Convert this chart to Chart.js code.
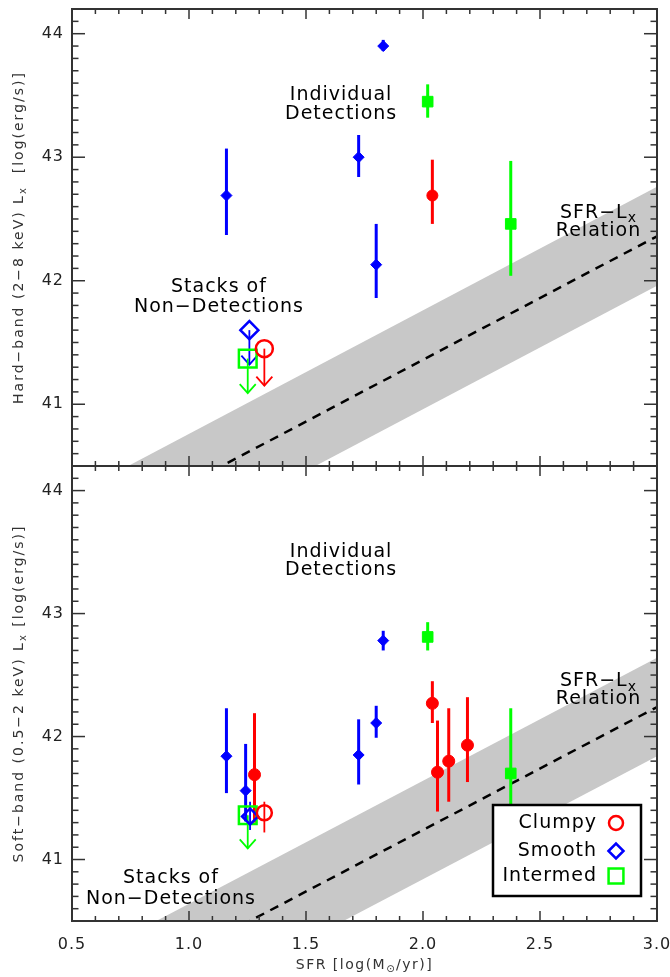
<!DOCTYPE html>
<html>
<head>
<meta charset="utf-8">
<script src="https://cdn.jsdelivr.net/npm/chart.js@4.4.0/dist/chart.umd.min.js"></script>
<style>
  html, body { margin: 0; padding: 0; background: #fff; }
  #wrap { position: relative; width: 670px; height: 977px; }
  canvas { position: absolute; left: 0; }
  #hardChart { top: 0; }
  #softChart { top: 456px; }
</style>
</head>
<body>
<div id="wrap">
  <canvas id="hardChart" width="670" height="476"></canvas>
  <canvas id="softChart" width="670" height="521"></canvas>
</div>
<script>
// axes
const sfrTicks = [0.5, 1.0, 1.5, 2.0, 2.5, 3.0];
const lxTicks = [41, 42, 43, 44];

// SFR-Lx relation (dashed line) and its scatter band
const relSfr = [0.5, 3.0];
const hardRelLx = [39.86, 42.36];
const softRelLx = [39.74, 42.24];
const relWidth = 0.4;

// hard band (2-8 keV), individual detections
const hardClumpySfr = [2.04];
const hardClumpyLx = [42.69];
const hardClumpyLo = [42.46];
const hardClumpyHi = [42.98];

const hardSmoothSfr = [1.16, 1.725, 1.80, 1.83];
const hardSmoothLx = [42.69, 43.00, 42.13, 43.90];
const hardSmoothLo = [42.37, 42.84, 41.86, 43.86];
const hardSmoothHi = [43.07, 43.18, 42.46, 43.95];

const hardInterSfr = [2.02, 2.375];
const hardInterLx = [43.45, 42.46];
const hardInterLo = [43.32, 42.04];
const hardInterHi = [43.59, 42.97];

// hard band stacks of non-detections: clumpy, smooth, intermed
const hardStackSfr = [1.322, 1.258, 1.251];
const hardStackLx = [41.45, 41.60, 41.37];
const hardStackLo = [null, null, null];
const hardStackHi = [null, null, null];
const hardStackLimit = [41.15, 41.32, 41.09];

// soft band (0.5-2 keV), individual detections
const softClumpySfr = [1.28, 2.04, 2.062, 2.11, 2.19];
const softClumpyLx = [41.69, 42.27, 41.71, 41.80, 41.93];
const softClumpyLo = [41.30, 42.11, 41.39, 41.47, 41.63];
const softClumpyHi = [42.19, 42.45, 42.13, 42.23, 42.32];

const softSmoothSfr = [1.16, 1.242, 1.725, 1.80, 1.83];
const softSmoothLx = [41.84, 41.56, 41.85, 42.11, 42.78];
const softSmoothLo = [41.54, 41.31, 41.61, 41.99, 42.70];
const softSmoothHi = [42.23, 41.94, 42.14, 42.25, 42.86];

const softInterSfr = [2.02, 2.375];
const softInterLx = [42.81, 41.70];
const softInterLo = [42.70, 41.30];
const softInterHi = [42.93, 42.23];

// soft band stacks: clumpy, smooth, intermed
const softStackSfr = [1.322, 1.261, 1.251];
const softStackLx = [41.38, 41.35, 41.36];
const softStackLo = [41.22, 41.24, null];
const softStackHi = [41.47, 41.47, null];
const softStackLimit = [null, null, 41.09];

const FONT = '"DejaVu Sans", "Liberation Sans", sans-serif';
const RED = '#ff0000';
const BLUE = '#0000ff';
const GREEN = '#00ff00';
const BAND = '#c8c8c8';
const FRAME = '#333';

function pts(xs, ys) {
  return xs.map((x, i) => ({ x: x, y: ys[i] }));
}

function fontFor(seg, size) {
  return (seg.sub ? Math.round(size * 0.72) : size) + 'px ' + FONT;
}

// draws text made of segments, some of them subscripts
function drawRich(ctx, segs, x, y, size, align) {
  segs = typeof segs === 'string' ? [{ t: segs }] : segs;
  const widths = segs.map(s => { ctx.font = fontFor(s, size); return ctx.measureText(s.t).width; });
  const total = widths.reduce((a, b) => a + b, 0);
  let cx = align === 'center' ? x - total / 2 : align === 'right' ? x - total : x;
  ctx.textAlign = 'left';
  ctx.textBaseline = 'middle';
  segs.forEach((s, i) => {
    ctx.font = fontFor(s, size);
    ctx.fillText(s.t, cx, s.sub ? y + size * 0.3 : y);
    cx += widths[i];
  });
}

function line(ctx, x1, y1, x2, y2) {
  ctx.beginPath();
  ctx.moveTo(x1, y1);
  ctx.lineTo(x2, y2);
  ctx.stroke();
}

function makePanel(id, p) {
  const canvas = document.getElementById(id);

  const styles = {
    clumpy: { pointStyle: 'circle', color: RED },
    smooth: { pointStyle: 'rectRot', color: BLUE },
    inter: { pointStyle: 'rect', color: GREEN }
  };
  const detRadius = { clumpy: p.bottom ? 6 : 5.5, smooth: 5.5, inter: 7.5 };
  const stackRadius = { clumpy: p.bottom ? 7.5 : 8.5, smooth: p.bottom ? 8 : 9, inter: 12.5 };
  const keys = ['clumpy', 'smooth', 'inter'];

  const datasets = [];
  keys.forEach(k => {
    const d = p.det[k];
    datasets.push({
      label: k, data: pts(d.sfr, d.lx), showLine: false, order: 1,
      pointStyle: styles[k].pointStyle, pointRadius: detRadius[k],
      backgroundColor: styles[k].color, borderColor: styles[k].color, borderWidth: 1
    });
  });
  keys.forEach((k, i) => {
    datasets.push({
      label: k + ' stack', data: [{ x: p.stack.sfr[i], y: p.stack.lx[i] }], showLine: false, order: 2,
      pointStyle: styles[k].pointStyle, pointRadius: stackRadius[k],
      backgroundColor: 'rgba(0,0,0,0)', borderColor: styles[k].color, borderWidth: 2.5
    });
  });
  datasets.push({
    label: 'relation', data: pts(relSfr, p.rel), order: 5,
    borderColor: '#000', borderWidth: 2.5, borderDash: [9, 7], pointRadius: 0, fill: false
  });
  datasets.push({
    label: 'band upper', data: pts(relSfr, p.rel.map(v => v + relWidth)), order: 6,
    borderWidth: 0, pointRadius: 0, backgroundColor: BAND, fill: '+1'
  });
  datasets.push({
    label: 'band lower', data: pts(relSfr, p.rel.map(v => v - relWidth)), order: 7,
    borderWidth: 0, pointRadius: 0, backgroundColor: BAND, fill: false
  });

  function errorBars(chart) {
    const ctx = chart.ctx;
    const xs = chart.scales.x, ys = chart.scales.y;
    ctx.save();
    ctx.lineCap = 'butt';
    keys.forEach(k => {
      const d = p.det[k];
      ctx.strokeStyle = styles[k].color;
      ctx.lineWidth = 3;
      d.sfr.forEach((s, i) => {
        const px = xs.getPixelForValue(s);
        line(ctx, px, ys.getPixelForValue(d.lo[i]), px, ys.getPixelForValue(d.hi[i]));
      });
    });
    keys.forEach((k, i) => {
      const st = p.stack;
      const px = xs.getPixelForValue(st.sfr[i]);
      ctx.strokeStyle = styles[k].color;
      ctx.lineWidth = 1.8;
      if (st.lo[i] != null) {
        line(ctx, px, ys.getPixelForValue(st.lo[i]), px, ys.getPixelForValue(st.hi[i]));
      }
      if (st.limit[i] != null) {
        const py0 = ys.getPixelForValue(st.lx[i]);
        const tip = ys.getPixelForValue(st.limit[i]);
        line(ctx, px, py0, px, tip);
        ctx.beginPath();
        ctx.moveTo(px - 8, tip - 9);
        ctx.lineTo(px, tip);
        ctx.lineTo(px + 8, tip - 9);
        ctx.stroke();
      }
    });
    ctx.restore();
  }

  function frame(chart) {
    const ctx = chart.ctx, a = chart.chartArea;
    const xs = chart.scales.x, ys = chart.scales.y;
    ctx.save();
    ctx.strokeStyle = FRAME;
    ctx.lineWidth = 1.5;
    for (let v = 6; v <= 29; v++) {
      const px = xs.getPixelForValue(v / 10);
      const len = v % 5 === 0 ? 10 : 5;
      line(ctx, px, a.top, px, a.top + len);
      line(ctx, px, a.bottom, px, a.bottom - len);
    }
    for (let v = 406; v <= 441; v++) {
      const py = ys.getPixelForValue(v / 10);
      const len = v % 10 === 0 ? 13 : 6.5;
      line(ctx, a.left, py, a.left + len, py);
      line(ctx, a.right, py, a.right - len, py);
    }
    ctx.lineWidth = 2;
    ctx.strokeRect(a.left, a.top, a.right - a.left, a.bottom - a.top);
    ctx.restore();
  }

  function texts(chart) {
    const ctx = chart.ctx, a = chart.chartArea;
    const xs = chart.scales.x, ys = chart.scales.y;
    ctx.save();
    ctx.fillStyle = '#000';
    ctx.letterSpacing = '1px';
    p.notes.forEach(n => {
      const cx = xs.getPixelForValue(n.sfr);
      const cy = ys.getPixelForValue(n.lx);
      n.lines.forEach((l, i) => drawRich(ctx, l, cx, cy + i * n.dy, 19, 'center'));
    });

    // y axis title
    ctx.fillStyle = '#333';
    ctx.letterSpacing = '2px';
    ctx.save();
    ctx.translate(19, (a.top + a.bottom) / 2);
    ctx.rotate(-Math.PI / 2);
    drawRich(ctx, p.yTitle, 0, 0, 14, 'center');
    ctx.restore();

    if (p.bottom) {
      ctx.letterSpacing = '1.5px';
      drawRich(ctx, [{ t: 'SFR [log(M' }, { t: '⊙', sub: true }, { t: '/yr)]' }],
        (a.left + a.right) / 2, a.bottom + 44, 14, 'center');

      // legend box
      const bx = a.right - 164, by = a.bottom - 116, bw = 148, bh = 91;
      ctx.fillStyle = '#fff';
      ctx.fillRect(bx, by, bw, bh);
      ctx.strokeStyle = '#000';
      ctx.lineWidth = 2.5;
      ctx.strokeRect(bx, by, bw, bh);
      const names = ['Clumpy', 'Smooth', 'Intermed'];
      const rowY = [18, 46, 71];
      const legRadius = { clumpy: 7, smooth: 7.5, inter: 10.5 };
      ctx.letterSpacing = '1px';
      keys.forEach((k, i) => {
        ctx.fillStyle = '#000';
        drawRich(ctx, names[i], bx + 104, by + rowY[i], 19, 'right');
        ctx.strokeStyle = styles[k].color;
        ctx.fillStyle = 'rgba(0,0,0,0)';
        ctx.lineWidth = 2.5;
        Chart.helpers.drawPoint(ctx, { pointStyle: styles[k].pointStyle, rotation: 0, radius: legRadius[k], borderWidth: 2.5 },
          bx + 123, by + rowY[i]);
      });
    }
    ctx.restore();
  }

  const panelPlugin = {
    id: 'panel',
    beforeDraw(chart) {
      chart.ctx.letterSpacing = '1px';
    },
    afterDatasetDraw(chart, args) {
      if (chart.data.datasets[args.index].label === 'relation') errorBars(chart);
    },
    afterDraw(chart) {
      frame(chart);
      texts(chart);
    }
  };

  // keep tick labels from pushing the plot area around
  const noPad = s => {
    s.paddingTop = 0; s.paddingBottom = 0; s.paddingLeft = 0; s.paddingRight = 0;
  };

  return new Chart(canvas, {
    type: 'line',
    data: { datasets: datasets },
    plugins: [panelPlugin],
    options: {
      responsive: false,
      devicePixelRatio: 1,
      animation: false,
      events: [],
      layout: {
        autoPadding: false,
        padding: { top: p.bottom ? 10 : 9, right: 13, bottom: p.bottom ? 0 : 10, left: 0 }
      },
      plugins: { legend: { display: false }, tooltip: { enabled: false } },
      scales: {
        x: {
          type: 'linear', min: 0.5, max: 3.0,
          display: p.bottom,
          grid: { display: false, drawTicks: false },
          border: { display: false },
          afterBuildTicks: s => { s.ticks = sfrTicks.map(v => ({ value: v })); },
          afterFit: s => { s.height = p.bottom ? 56 : 0; noPad(s); },
          ticks: {
            autoSkip: false, maxRotation: 0, padding: 14, color: '#222',
            font: { family: FONT, size: 16 },
            callback: v => Number(v).toFixed(1)
          }
        },
        y: {
          type: 'linear', min: 40.5, max: 44.2,
          grid: { display: false, drawTicks: false },
          border: { display: false },
          afterBuildTicks: s => { s.ticks = lxTicks.map(v => ({ value: v })); },
          afterFit: s => { s.width = 72; noPad(s); },
          ticks: {
            padding: 8, color: '#222',
            font: { family: FONT, size: 16 },
            callback: v => String(v)
          }
        }
      }
    }
  });
}

makePanel('hardChart', {
  bottom: false,
  rel: hardRelLx,
  det: {
    clumpy: { sfr: hardClumpySfr, lx: hardClumpyLx, lo: hardClumpyLo, hi: hardClumpyHi },
    smooth: { sfr: hardSmoothSfr, lx: hardSmoothLx, lo: hardSmoothLo, hi: hardSmoothHi },
    inter: { sfr: hardInterSfr, lx: hardInterLx, lo: hardInterLo, hi: hardInterHi }
  },
  stack: { sfr: hardStackSfr, lx: hardStackLx, lo: hardStackLo, hi: hardStackHi, limit: hardStackLimit },
  yTitle: [{ t: 'Hard−band (2−8 keV) L' }, { t: 'x', sub: true }, { t: '  [log(erg/s)]' }],
  notes: [
    { lines: ['Individual', 'Detections'], sfr: 1.65, lx: 43.50, dy: 19 },
    { lines: ['Stacks of', 'Non−Detections'], sfr: 1.128, lx: 41.95, dy: 20 },
    { lines: [[{ t: 'SFR−L' }, { t: 'x', sub: true }], 'Relation'], sfr: 2.75, lx: 42.55, dy: 18 }
  ]
});

makePanel('softChart', {
  bottom: true,
  rel: softRelLx,
  det: {
    clumpy: { sfr: softClumpySfr, lx: softClumpyLx, lo: softClumpyLo, hi: softClumpyHi },
    smooth: { sfr: softSmoothSfr, lx: softSmoothLx, lo: softSmoothLo, hi: softSmoothHi },
    inter: { sfr: softInterSfr, lx: softInterLx, lo: softInterLo, hi: softInterHi }
  },
  stack: { sfr: softStackSfr, lx: softStackLx, lo: softStackLo, hi: softStackHi, limit: softStackLimit },
  yTitle: [{ t: 'Soft−band (0.5−2 keV) L' }, { t: 'x', sub: true }, { t: ' [log(erg/s)]' }],
  notes: [
    { lines: ['Individual', 'Detections'], sfr: 1.65, lx: 43.50, dy: 18 },
    { lines: ['Stacks of', 'Non−Detections'], sfr: 0.923, lx: 40.85, dy: 21 },
    { lines: [[{ t: 'SFR−L' }, { t: 'x', sub: true }], 'Relation'], sfr: 2.75, lx: 42.45, dy: 18 }
  ]
});
</script>
</body>
</html>
